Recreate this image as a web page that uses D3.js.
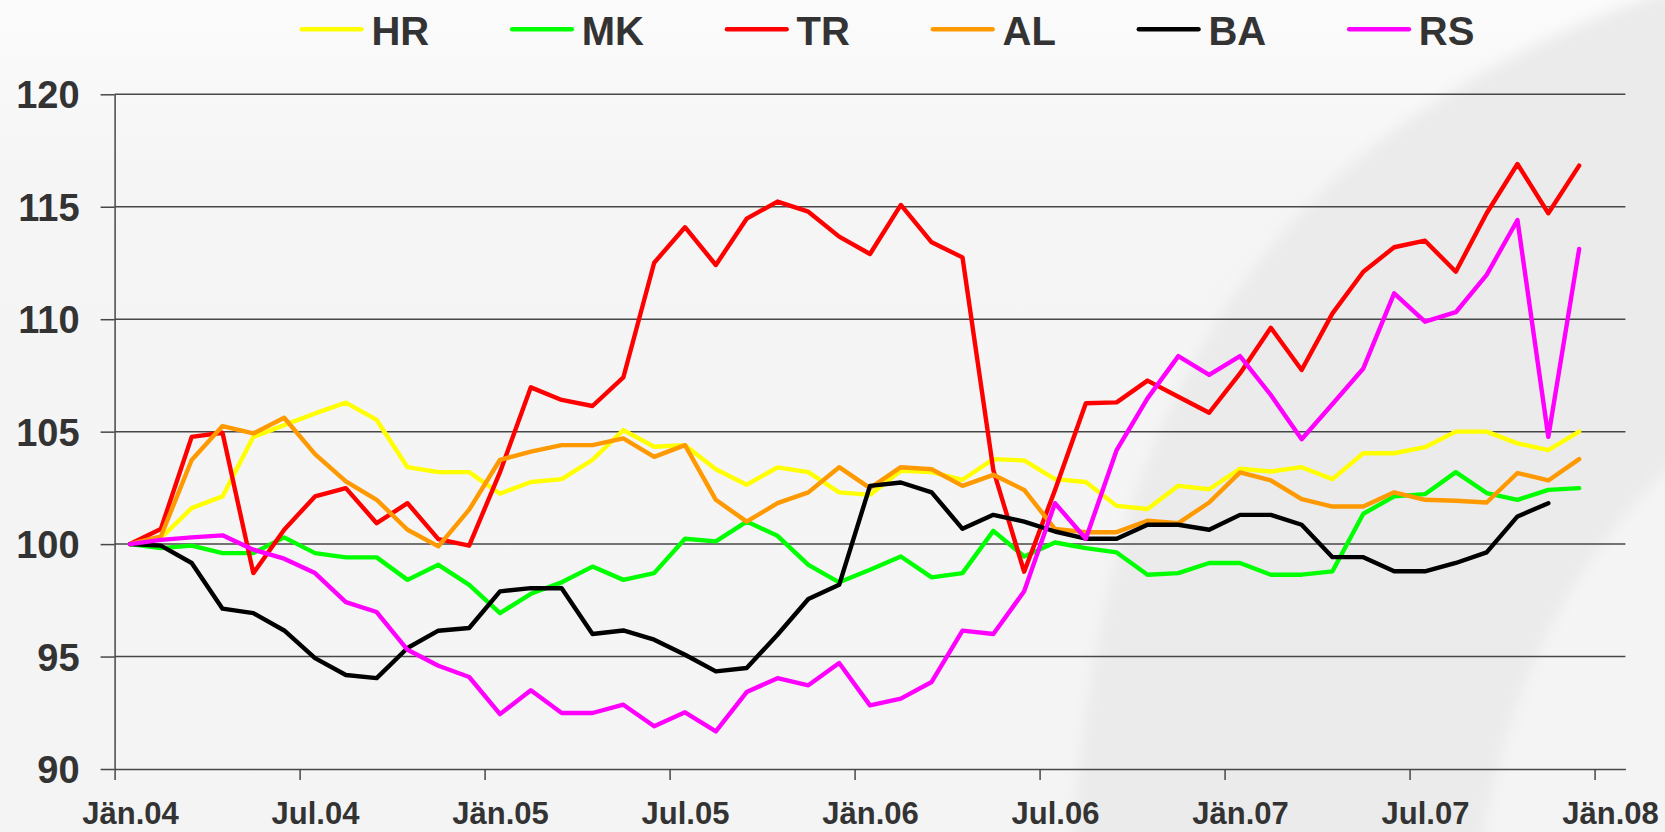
<!DOCTYPE html>
<html>
<head>
<meta charset="utf-8">
<script src="https://cdn.jsdelivr.net/npm/d3@7"></script>
<style>
  html, body { margin: 0; padding: 0; background: #f4f4f4; overflow: hidden; }
  text { font-family: "Liberation Sans", Arial, sans-serif; font-weight: bold; fill: #333; }
</style>
</head>
<body>
<svg id="chart" width="1665" height="832"></svg>
<script>
// Monthly categories Jän.04 .. Jän.08 (the last one has no data)
const monthNames = ["Jän", "Feb", "Mär", "Apr", "Mai", "Jun", "Jul", "Aug", "Sep", "Okt", "Nov", "Dez"];
const years = ["04", "05", "06", "07", "08"];
const categories = [];
years.forEach(yr => monthNames.forEach(m => categories.push(m + "." + yr)));
categories.length = 49;

const tickLabels = ["Jän.04", "Jul.04", "Jän.05", "Jul.05", "Jän.06", "Jul.06", "Jän.07", "Jul.07", "Jän.08"];
const yTicks = [90, 95, 100, 105, 110, 115, 120];

const seriesNames = ["HR", "MK", "TR", "AL", "BA", "RS"];
const seriesColors = ["#ffff00", "#00ff00", "#ff0000", "#ff9900", "#000000", "#ff00ff"];

const HR = [100, 100.27, 101.6, 102.12, 104.77, 105.29, 105.81, 106.29, 105.52, 103.42, 103.2, 103.2,
  102.24, 102.76, 102.89, 103.75, 105.07, 104.33, 104.4, 103.33, 102.64, 103.41, 103.2, 102.3,
  102.19, 103.26, 103.2, 102.86, 103.78, 103.72, 102.89, 102.76, 101.7, 101.56, 102.59, 102.44,
  103.35, 103.23, 103.42, 102.89, 104.04, 104.04, 104.31, 105.0, 105.0, 104.48, 104.18, 105.0];
const MK = [100, 99.82, 99.93, 99.6, 99.6, 100.3, 99.6, 99.41, 99.41, 98.41, 99.08, 98.19,
  96.93, 97.79, 98.3, 99.0, 98.41, 98.71, 100.24, 100.12, 101.0, 100.37, 99.08, 98.3,
  98.86, 99.45, 98.52, 98.71, 100.59, 99.45, 100.07, 99.82, 99.63, 98.64, 98.71, 99.16,
  99.16, 98.64, 98.64, 98.79, 101.35, 102.12, 102.22, 103.2, 102.27, 101.97, 102.41, 102.49];
const TR = [100, 100.67, 104.77, 104.95, 98.71, 100.64, 102.12, 102.49, 100.93, 101.82, 100.22, 99.93,
  103.2, 106.97, 106.41, 106.14, 107.41, 112.51, 114.09, 112.41, 114.47, 115.23, 114.78, 113.67,
  112.9, 115.08, 113.42, 112.75, 103.29, 98.77, 102.4, 106.26, 106.3, 107.27, 106.55, 105.84,
  107.59, 109.62, 107.74, 110.26, 112.11, 113.2, 113.49, 112.11, 114.71, 116.9, 114.71, 116.83];
const AL = [100, 100.34, 103.74, 105.25, 104.92, 105.62, 104.0, 102.79, 101.97, 100.64, 99.9, 101.53,
  103.75, 104.11, 104.4, 104.4, 104.7, 103.88, 104.4, 101.97, 101.0, 101.82, 102.3, 103.42,
  102.49, 103.42, 103.33, 102.59, 103.08, 102.41, 100.67, 100.53, 100.53, 101.04, 100.93, 101.85,
  103.19, 102.83, 102.0, 101.67, 101.67, 102.3, 101.97, 101.93, 101.85, 103.16, 102.83, 103.78];
const BA = [100, 99.93, 99.16, 97.13, 96.93, 96.16, 94.93, 94.18, 94.04, 95.38, 96.15, 96.27,
  97.9, 98.04, 98.04, 96.0, 96.16, 95.75, 95.08, 94.34, 94.49, 95.97, 97.56, 98.19,
  102.59, 102.74, 102.3, 100.68, 101.3, 101.0, 100.56, 100.24, 100.24, 100.86, 100.86, 100.64,
  101.3, 101.3, 100.86, 99.42, 99.42, 98.79, 98.79, 99.16, 99.63, 101.23, 101.82, null];
const RS = [100, 100.19, 100.3, 100.39, 99.75, 99.35, 98.71, 97.42, 96.98, 95.3, 94.59, 94.09,
  92.44, 93.5, 92.49, 92.49, 92.86, 91.9, 92.52, 91.67, 93.42, 94.04, 93.72, 94.71,
  92.83, 93.13, 93.87, 96.15, 96.0, 97.9, 101.82, 100.24, 104.18, 106.48, 108.36, 107.52,
  108.36, 106.63, 104.66, 106.23, 107.81, 111.15, 109.89, 110.31, 111.97, 114.41, 104.77, 113.12];

const seriesValues = [HR, MK, TR, AL, BA, RS];

const svg = d3.select("#chart");
const defs = svg.append("defs");

// background: light top fading into grey, plus the soft swoosh on the right
const bg = defs.append("linearGradient").attr("id", "bgGrad")
  .attr("x1", 0).attr("y1", 0).attr("x2", 0).attr("y2", 1);
bg.append("stop").attr("offset", "0").attr("stop-color", "#fbfbfb");
bg.append("stop").attr("offset", "0.22").attr("stop-color", "#f5f5f5");
bg.append("stop").attr("offset", "1").attr("stop-color", "#f4f4f4");

defs.append("filter").attr("id", "soft")
  .attr("x", "-20%").attr("y", "-20%").attr("width", "140%").attr("height", "140%")
  .append("feGaussianBlur").attr("stdDeviation", 7);

svg.append("rect").attr("width", 1665).attr("height", 832).attr("fill", "url(#bgGrad)");

svg.append("path")
  .attr("d", "M1700,-20 C1300,110 1100,350 1072,860 L1478,860 C1505,700 1560,560 1700,440 Z")
  .attr("fill", "#ebebeb")
  .attr("filter", "url(#soft)");

// scales
const x = d3.scaleLinear().domain([0, categories.length]).range([114.6, 1625.4]);
const y = d3.scaleLinear().domain([90, 120]).range([769, 94.3]);
const step = x(1) - x(0);

// horizontal gridlines
svg.append("g")
  .selectAll("line")
  .data(yTicks.slice(1))
  .join("line")
  .attr("x1", x(0)).attr("x2", x(categories.length))
  .attr("y1", d => y(d)).attr("y2", d => y(d))
  .attr("stroke", "#474747")
  .attr("stroke-width", 1.5);

// y axis
const yAxis = svg.append("g")
  .attr("transform", `translate(${x(0)},0)`)
  .call(d3.axisLeft(y).tickValues(yTicks).tickSize(14).tickSizeOuter(0).tickPadding(21));
yAxis.select(".domain").attr("stroke", "#474747").attr("stroke-width", 1.5);
yAxis.selectAll(".tick line").attr("stroke", "#474747").attr("stroke-width", 1.5);
yAxis.selectAll("text")
  .style("font-family", '"Liberation Sans", Arial, sans-serif')
  .style("font-weight", "bold")
  .style("font-size", "38px")
  .attr("fill", "#333")
  .attr("dy", "0.36em");

// x axis: ticks between categories, labels centred on the category
const xAxis = svg.append("g")
  .attr("transform", `translate(0,${y(90)})`)
  .call(d3.axisBottom(x)
    .tickValues(d3.range(0, categories.length, 6))
    .tickSize(11).tickSizeOuter(0)
    .tickFormat((d, i) => tickLabels[i]));
xAxis.select(".domain").attr("stroke", "#474747").attr("stroke-width", 1.5);
xAxis.selectAll(".tick line").attr("stroke", "#474747").attr("stroke-width", 1.5);
xAxis.selectAll("text")
  .style("font-family", '"Liberation Sans", Arial, sans-serif')
  .style("font-weight", "bold")
  .style("font-size", "31px")
  .attr("fill", "#333")
  .attr("x", step / 2)
  .attr("y", 55)
  .attr("dy", 0);

// series lines
const line = d3.line()
  .defined(d => d != null)
  .x((d, i) => x(i + 0.5))
  .y(d => y(d));

svg.append("g")
  .selectAll("path")
  .data(seriesValues)
  .join("path")
  .attr("d", d => line(d))
  .attr("fill", "none")
  .attr("stroke", (d, i) => seriesColors[i])
  .attr("stroke-width", 4.4)
  .attr("stroke-linejoin", "round")
  .attr("stroke-linecap", "round");

// legend, entries flow left to right
const legend = svg.append("g");
let lx = 301.8;
seriesNames.forEach((name, i) => {
  legend.append("line")
    .attr("x1", lx).attr("x2", lx + 59.6)
    .attr("y1", 29.3).attr("y2", 29.3)
    .attr("stroke", seriesColors[i])
    .attr("stroke-width", 4.6)
    .attr("stroke-linecap", "round");
  const t = legend.append("text")
    .attr("x", lx + 69.6)
    .attr("y", 45)
    .style("font-size", "40px")
    .text(name);
  lx += 69.6 + t.node().getComputedTextLength() + 83;
});
</script>
</body>
</html>
